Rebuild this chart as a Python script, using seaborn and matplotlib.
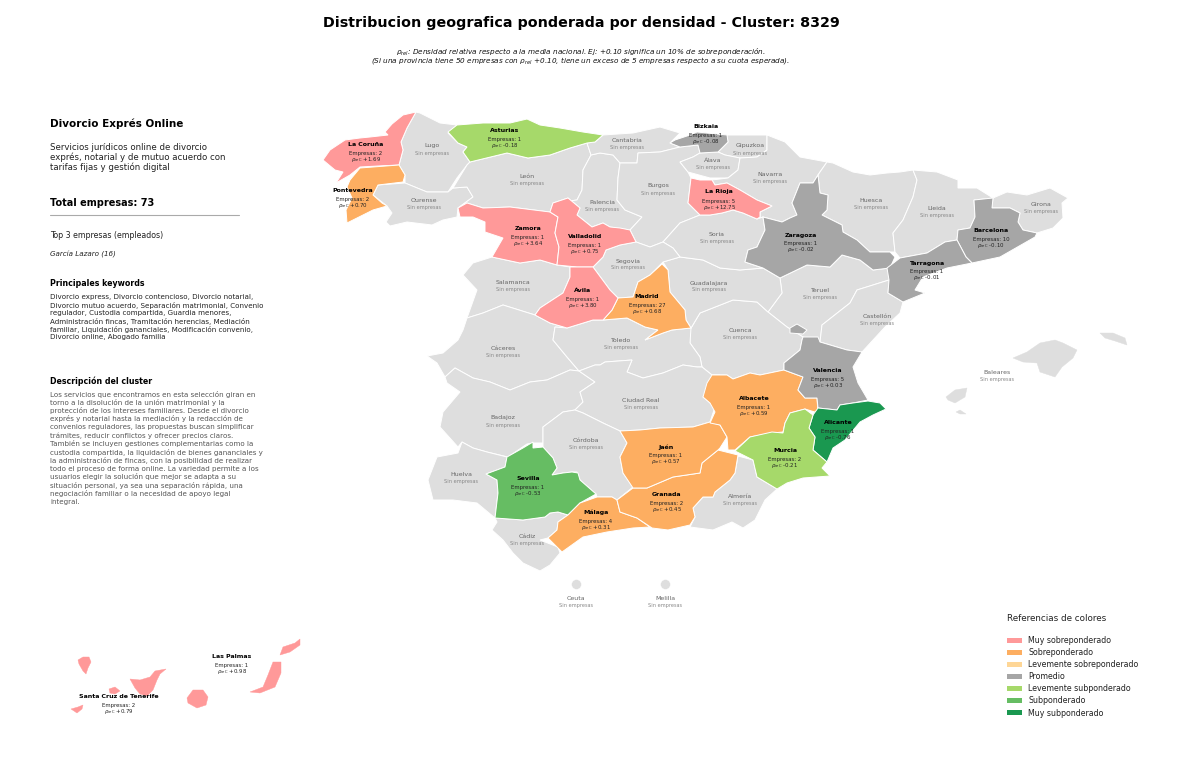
import matplotlib
matplotlib.use('Agg')
import matplotlib.pyplot as plt
from matplotlib.patches import Patch
import seaborn as sns

# categorias de la leyenda
CATEGORIES = ['Muy sobreponderado', 'Sobreponderado', 'Levemente sobreponderado', 'Promedio',
              'Levemente subponderado', 'Subponderado', 'Muy subponderado']
CATEGORY_HEX = ['#ff9999', '#fdae61', '#fed696', '#a6a6a6', '#a6d96a', '#66bd63', '#1a9850']
NO_DATA = '#dedede'

# provincias con empresas
PROVINCES = ['La Coruña', 'Pontevedra', 'Asturias', 'Zamora', 'Valladolid', 'Ávila', 'Madrid', 'Bizkaia',
             'La Rioja', 'Zaragoza', 'Tarragona', 'Barcelona', 'Valencia', 'Albacete', 'Alicante', 'Murcia',
             'Jaén', 'Granada', 'Málaga', 'Sevilla', 'Las Palmas', 'Santa Cruz de Tenerife']
COUNTS = [2, 2, 1, 1, 1, 1, 27, 1, 5, 1, 1, 10, 5, 1, 1, 2, 1, 2, 4, 1, 1, 2]
RHO = [1.69, 0.70, -0.18, 3.64, 0.75, 3.80, 0.68, -0.08, 12.75, -0.02, -0.01, -0.10, 0.03, 0.59, -0.76, -0.21,
       0.57, 0.45, 0.31, -0.53, 0.98, 0.79]
CLASSES = [0, 1, 4, 0, 0, 0, 1, 3, 0, 3, 3, 3, 3, 1, 6, 4, 1, 1, 1, 5, 0, 0]

EMPTY_PROVINCES = ['Lugo', 'Ourense', 'León', 'Palencia', 'Cantabria', 'Burgos', 'Álava', 'Gipuzkoa', 'Navarra',
                   'Huesca', 'Lleida', 'Girona', 'Soria', 'Segovia', 'Salamanca', 'Guadalajara', 'Teruel',
                   'Castellón', 'Cuenca', 'Toledo', 'Cáceres', 'Ciudad Real', 'Badajoz', 'Baleares', 'Córdoba',
                   'Huelva', 'Almería', 'Cádiz', 'Ceuta', 'Melilla']

ISLANDS = ['Baleares', 'Santa Cruz de Tenerife', 'Las Palmas']

OUTLINES = {
    'La Coruña': [[(416,112),(403,115),(392,124),(385,132),(388,135),(370,137),(360,138),(345,140),(330,150),(323,160),(335,170),(343,172),(336,183),(350,175),(360,167),(378,166),(399,165),(403,150),(401,142),(407,128)]],
    'Lugo': [[(416,112),(420,113),(440,123),(457,125),(448,133),(458,143),(467,147),(463,152),(470,162),(467,165),(457,178),(448,192),(427,192),(405,183),(405,175),(399,165),(403,150),(401,142),(407,128)]],
    'Asturias': [[(448,132),(457,125),(483,123),(510,123),(527,119),(540,125),(560,128),(583,132),(603,135),(595,142),(587,143),(570,148),(550,155),(528,158),(507,153),(470,162),(463,152),(467,147),(458,143)]],
    'Pontevedra': [[(399,165),(405,175),(403,182),(378,185),(373,195),(382,203),(387,206),(373,210),(347,223),(346,210),(352,198),(347,187),(350,180),(360,168)]],
    'Ourense': [[(405,183),(427,192),(448,192),(453,188),(467,187),(473,197),(458,208),(457,217),(443,220),(432,225),(407,222),(390,226),(386,222),(392,213),(387,206),(373,195),(378,185)]],
    'León': [[(470,162),(507,153),(528,158),(550,155),(570,148),(587,143),(591,155),(583,170),(582,190),(577,200),(553,203),(550,212),(510,207),(483,208),(467,203),(458,208),(473,197),(467,187),(453,188),(467,165)]],
    'Zamora': [[(458,208),(467,203),(483,208),(510,207),(550,212),(558,217),(555,233),(559,247),(557,265),(540,260),(520,263),(492,257),(503,238),(485,232),(485,222),(473,217),(460,217)]],
    'Valladolid': [[(553,203),(568,198),(580,208),(577,215),(592,227),(603,223),(610,227),(620,228),(630,230),(636,242),(620,245),(606,250),(603,257),(593,267),(577,267),(557,265),(559,247),(555,233),(558,217),(550,212)]],
    'Palencia': [[(591,155),(600,153),(613,155),(620,163),(618,178),(617,200),(625,210),(642,217),(630,230),(610,227),(603,223),(592,227),(577,215),(580,208),(568,198),(553,203),(577,200),(582,190),(583,170)]],
    'Cantabria': [[(603,135),(633,133),(660,127),(680,133),(670,143),(680,147),(660,152),(638,153),(637,163),(620,163),(613,155),(600,153),(591,155),(587,143),(595,142)]],
    'Burgos': [[(620,163),(637,163),(638,153),(660,152),(680,147),(698,145),(700,153),(693,157),(680,162),(688,172),(691,178),(688,203),(700,215),(680,223),(663,242),(650,247),(636,242),(630,230),(642,217),(625,210),(617,200),(618,178)]],
    'Bizkaia': [[(670,143),(675,140),(690,135),(697,132),(727,135),(728,142),(718,152),(700,153),(698,145),(680,147)]],
    'Gipuzkoa': [[(727,135),(767,135),(767,150),(757,157),(740,158),(725,155),(718,152),(728,142)]],
    'Álava': [[(700,153),(718,152),(725,155),(740,158),(738,170),(728,178),(710,178),(688,172),(680,162),(693,157)]],
    'La Rioja': [[(691,178),(700,180),(712,180),(715,185),(727,183),(740,190),(757,200),(772,206),(760,212),(760,217),(757,219),(743,213),(733,210),(722,213),(710,215),(700,215),(688,203)]],
    'Navarra': [[(767,135),(785,142),(800,157),(827,162),(820,172),(818,175),(813,183),(800,183),(792,203),(797,215),(790,218),(782,222),(763,217),(757,219),(760,217),(760,212),(772,206),(757,200),(740,190),(727,183),(715,185),(712,180),(728,178),(738,170),(740,158),(757,157),(767,150)]],
    'Zaragoza': [[(818,175),(820,193),(828,195),(827,210),(822,215),(842,225),(843,232),(857,240),(870,252),(890,252),(895,257),(890,268),(873,270),(860,260),(842,255),(830,267),(807,265),(780,278),(763,268),(745,262),(748,250),(757,247),(765,230),(763,217),(782,222),(790,218),(797,215),(792,203),(800,183),(813,183)]],
    'Huesca': [[(827,162),(833,163),(853,172),(870,175),(887,173),(900,172),(913,170),(917,180),(913,197),(903,220),(893,233),(895,252),(870,252),(857,240),(843,232),(842,225),(822,215),(827,210),(828,195),(820,193),(818,175),(820,172)]],
    'Lleida': [[(913,170),(937,172),(958,180),(958,188),(977,188),(993,198),(974,200),(975,217),(970,228),(958,230),(957,240),(945,242),(927,253),(900,258),(895,252),(893,233),(903,220),(913,197),(917,180)]],
    'Girona': [[(993,198),(1007,192),(1027,195),(1050,188),(1068,198),(1062,203),(1063,218),(1053,228),(1037,233),(1023,230),(1018,222),(1020,213),(1010,208),(992,208)]],
    'Barcelona': [[(974,200),(993,198),(992,208),(1010,208),(1020,213),(1018,222),(1023,230),(1037,233),(1035,237),(1000,257),(972,263),(966,257),(957,240),(958,230),(970,228),(975,217)]],
    'Tarragona': [[(945,242),(957,240),(966,257),(972,263),(947,268),(923,277),(915,290),(925,293),(903,302),(888,293),(889,280),(887,268),(900,258),(927,253)]],
    'Teruel': [[(780,278),(807,265),(830,267),(842,255),(860,260),(873,270),(890,268),(889,280),(857,290),(850,303),(822,325),(820,342),(803,337),(787,327),(768,312),(782,293)]],
    'Castellón': [[(889,280),(888,293),(903,302),(900,313),(885,327),(862,352),(847,350),(820,342),(822,325),(850,303),(857,290)]],
    'Cuenca': [[(690,330),(700,313),(733,300),(757,302),(768,312),(787,327),(803,337),(802,340),(800,350),(784,363),(784,370),(760,375),(750,373),(733,379),(727,375),(712,375),(702,367),(700,357),(690,343)]],
    'Guadalajara': [[(663,262),(680,257),(703,260),(720,268),(740,270),(763,268),(780,278),(782,293),(768,312),(757,302),(733,300),(700,313),(691,328),(686,320),(685,310),(670,292),(668,270)]],
    'Soria': [[(663,242),(680,223),(700,215),(710,215),(722,213),(733,210),(743,213),(757,219),(763,217),(765,230),(757,247),(748,250),(745,262),(763,268),(740,270),(720,268),(703,260),(680,257),(673,248)]],
    'Segovia': [[(636,242),(650,247),(663,242),(673,248),(680,257),(663,262),(650,275),(638,282),(633,297),(618,298),(610,290),(593,267),(603,257),(606,250),(620,245)]],
    'Madrid': [[(662,264),(668,270),(670,292),(685,310),(686,320),(691,328),(672,330),(663,333),(645,340),(658,330),(645,327),(627,318),(603,320),(612,310),(618,298),(633,297),(638,282),(650,275)]],
    'Ávila': [[(570,267),(593,267),(610,290),(618,298),(612,310),(603,320),(593,320),(567,328),(550,323),(535,315),(540,308),(563,293),(570,277)]],
    'Salamanca': [[(492,257),(520,263),(540,260),(557,265),(570,267),(570,277),(563,293),(540,308),(535,315),(503,305),(483,313),(467,318),(477,290),(463,275),(473,263)]],
    'Cáceres': [[(467,318),(483,313),(503,305),(535,315),(550,323),(567,328),(555,327),(553,340),(567,357),(579,371),(570,370),(547,380),(530,382),(510,390),(490,382),(473,378),(455,368),(445,377),(437,363),(427,356),(443,353),(458,340),(463,330)]],
    'Badajoz': [[(445,377),(455,368),(473,378),(490,382),(510,390),(530,382),(547,380),(570,370),(579,371),(595,382),(580,392),(583,402),(575,410),(563,412),(543,427),(543,443),(533,443),(527,444),(508,457),(487,452),(473,448),(462,442),(458,447),(440,427),(443,412),(460,392),(447,383)]],
    'Toledo': [[(553,340),(555,327),(567,328),(593,320),(603,320),(627,318),(645,327),(658,330),(645,340),(663,333),(672,330),(691,328),(690,343),(700,357),(702,367),(697,367),(683,365),(663,373),(643,378),(627,372),(632,360),(605,362),(600,365),(595,365),(579,371),(567,357)]],
    'Ciudad Real': [[(579,371),(595,365),(600,365),(605,362),(632,360),(627,372),(643,378),(663,373),(683,365),(697,367),(702,367),(712,375),(720,375),(703,397),(715,407),(710,422),(693,427),(660,428),(640,430),(620,431),(603,423),(583,413),(575,410),(583,402),(580,392),(595,382)]],
    'Córdoba': [[(575,410),(583,413),(603,423),(620,431),(627,443),(620,457),(623,473),(633,487),(617,500),(612,497),(597,497),(596,494),(580,480),(577,472),(572,472),(563,473),(552,475),(557,468),(553,458),(543,447),(543,427),(563,412)]],
    'Sevilla': [[(486,474),(505,467),(507,457),(523,448),(533,442),(533,448),(543,447),(553,458),(557,468),(552,475),(563,473),(572,472),(578,473),(580,480),(596,494),(580,503),(568,515),(558,512),(550,513),(545,517),(523,520),(495,518),(498,493),(497,480)]],
    'Huelva': [[(462,442),(473,448),(487,452),(507,457),(505,467),(486,474),(497,480),(498,493),(495,518),(477,503),(453,500),(433,500),(428,480),(437,457),(458,453)]],
    'Cádiz': [[(495,518),(523,520),(545,517),(550,513),(558,512),(568,515),(558,522),(557,530),(548,538),(540,540),(558,547),(560,553),(550,565),(540,571),(523,563),(513,553),(503,540),(492,530),(497,522)]],
    'Málaga': [[(568,515),(580,503),(597,497),(612,497),(617,500),(620,512),(637,518),(650,527),(633,528),(607,532),(583,537),(562,552),(548,538),(557,530),(558,522)]],
    'Granada': [[(617,500),(633,488),(647,488),(673,477),(700,473),(702,463),(718,450),(738,455),(735,473),(730,480),(715,492),(713,497),(703,497),(693,508),(695,517),(690,525),(668,530),(652,528),(637,518),(620,512)]],
    'Jaén': [[(620,431),(640,430),(660,428),(693,427),(710,422),(720,425),(727,437),(720,448),(718,450),(702,463),(700,473),(673,477),(647,488),(633,488),(623,473),(620,457),(627,443)]],
    'Albacete': [[(712,375),(727,375),(733,379),(750,373),(760,375),(784,370),(803,377),(798,390),(805,398),(817,398),(818,413),(805,409),(790,413),(785,423),(783,432),(772,433),(750,437),(735,450),(728,450),(727,437),(720,425),(710,423),(715,412),(710,403),(703,397),(707,383)]],
    'Valencia': [[(803,337),(818,337),(820,342),(847,350),(862,352),(853,367),(858,383),(868,400),(853,403),(840,405),(837,410),(818,408),(817,398),(805,398),(798,390),(803,377),(784,370),(784,363),(800,350),(802,340)],
                 [(790,328),(797,324),(807,330),(803,334),(790,333)]],
    'Alicante': [[(818,408),(837,410),(840,405),(853,403),(868,401),(880,403),(886,409),(873,415),(860,422),(845,440),(833,448),(827,462),(813,450),(815,437),(809,428),(813,415)]],
    'Murcia': [[(785,423),(790,413),(805,409),(813,415),(809,428),(815,437),(813,450),(827,462),(822,468),(830,476),(803,478),(787,483),(777,489),(757,477),(753,460),(735,451),(750,437),(772,432),(783,433)]],
    'Almería': [[(738,456),(753,460),(757,477),(777,489),(765,500),(755,520),(743,528),(732,522),(713,530),(690,527),(695,517),(693,508),(703,497),(713,497),(715,492),(730,480),(735,473)]],
    'Baleares': [[(1013,358),(1027,352),(1040,343),(1055,340),(1063,343),(1077,350),(1073,358),(1062,367),(1055,377),(1040,372),(1037,363),(1023,362)],
                 [(1100,333),(1113,333),(1125,338),(1127,345),(1115,341),(1105,338)],
                 [(946,397),(955,390),(967,388),(965,397),(955,403),(948,400)],
                 [(956,412),(960,410),(966,414),(960,414)]],
    'Santa Cruz de Tenerife': [[(78,660),(83,657),(89,657),(91,662),(88,668),(86,674),(83,671),(79,664)],
                               [(109,689),(115,687),(120,691),(115,694),(110,693)],
                               [(71,709),(78,707),(83,705),(82,709),(77,713)],
                               [(130,679),(140,680),(150,677),(155,671),(166,669),(160,674),(157,680),(153,690),(147,696),(140,694),(135,688)]],
    'Las Palmas': [[(193,690),(203,690),(208,697),(206,705),(197,708),(188,703),(187,698)],
                   [(250,692),(263,687),(268,675),(273,662),(281,662),(281,673),(275,687),(260,693)],
                   [(280,655),(283,647),(295,643),(300,639),(300,645),(290,652)]],
}

# ceuta y melilla son solo puntos
ENCLAVE_X = [576, 665]
ENCLAVE_Y = [584, 584]

# posicion de cada etiqueta
LABEL_POS = {
    'La Coruña': (366,145), 'Pontevedra': (353,191), 'Asturias': (505,131), 'Zamora': (528,229), 'Valladolid': (585,237),
    'Ávila': (583,291), 'Madrid': (647,297), 'Bizkaia': (706,127), 'La Rioja': (719,192), 'Zaragoza': (801,235),
    'Tarragona': (927,263), 'Barcelona': (991,230), 'Valencia': (828,371), 'Albacete': (754,399), 'Alicante': (838,422),
    'Murcia': (785,450), 'Jaén': (666,447), 'Granada': (667,494), 'Málaga': (596,512), 'Sevilla': (528,479),
    'Las Palmas': (232,656), 'Santa Cruz de Tenerife': (119,697),
    'Lugo': (432,146), 'Ourense': (424,201), 'León': (527,177), 'Palencia': (602,202), 'Cantabria': (627,141),
    'Burgos': (658,186), 'Álava': (713,161), 'Gipuzkoa': (750,146), 'Navarra': (770,174), 'Huesca': (871,201),
    'Lleida': (937,208), 'Girona': (1041,205), 'Soria': (717,234), 'Segovia': (628,261), 'Salamanca': (513,283),
    'Guadalajara': (709,283), 'Teruel': (820,291), 'Castellón': (877,317), 'Cuenca': (740,331), 'Toledo': (621,341),
    'Cáceres': (503,349), 'Ciudad Real': (641,400), 'Badajoz': (503,418), 'Baleares': (997,373), 'Córdoba': (586,441),
    'Huelva': (461,474), 'Almería': (740,497), 'Cádiz': (527,537), 'Ceuta': (576,599), 'Melilla': (665,599),
}

DESC_LINES = ['Servicios jurídicos online de divorcio', 'exprés, notarial y de mutuo acuerdo con',
              'tarifas fijas y gestión digital']
KEYWORD_LINES = ['Divorcio express, Divorcio contencioso, Divorcio notarial,',
                 'Divorcio mutuo acuerdo, Separación matrimonial, Convenio',
                 'regulador, Custodia compartida, Guardia menores,',
                 'Administración fincas, Tramitación herencias, Mediación',
                 'familiar, Liquidación gananciales, Modificación convenio,',
                 'Divorcio online, Abogado familia']
CLUSTER_LINES = ['Los servicios que encontramos en esta selección giran en',
                 'torno a la disolución de la unión matrimonial y la',
                 'protección de los intereses familiares. Desde el divorcio',
                 'exprés y notarial hasta la mediación y la redacción de',
                 'convenios reguladores, las propuestas buscan simplificar',
                 'trámites, reducir conflictos y ofrecer precios claros.',
                 'También se incluyen gestiones complementarias como la',
                 'custodia compartida, la liquidación de bienes gananciales y',
                 'la administración de fincas, con la posibilidad de realizar',
                 'todo el proceso de forma online. La variedad permite a los',
                 'usuarios elegir la solución que mejor se adapta a su',
                 'situación personal, ya sea una separación rápida, una',
                 'negociación familiar o la necesidad de apoyo legal',
                 'integral.']

sns.set_theme(style='white')
plt.rcParams['font.family'] = ['DejaVu Sans']
palette = sns.color_palette(CATEGORY_HEX)

fig = plt.figure(figsize=(12, 7.61), dpi=100)
ax = fig.add_axes([0, 0, 1, 1])

# provincias
for name, parts in OUTLINES.items():
    color = palette[CLASSES[PROVINCES.index(name)]] if name in PROVINCES else NO_DATA
    z = 2 if name in PROVINCES else 1
    # en las islas el borde blanco se come la forma
    edge = color if name in ISLANDS else 'white'
    lw = 0.3 if name in ISLANDS else 0.7
    for part in parts:
        xs, ys = zip(*part)
        ax.fill(xs, ys, facecolor=color, edgecolor=edge, linewidth=lw, zorder=z)

sns.scatterplot(x=ENCLAVE_X, y=ENCLAVE_Y, color=NO_DATA, s=50, edgecolor='white', linewidth=0.3, ax=ax, zorder=2)

ax.set_xlim(0, 1200)
ax.set_ylim(761, 0)
ax.axis('off')

# etiquetas
for name, n, r in zip(PROVINCES, COUNTS, RHO):
    x, y = LABEL_POS[name]
    ax.text(x, y, name, ha='center', va='center', fontsize=4.5, fontweight='bold', color='black', zorder=5)
    ax.text(x, y + 9, f'Empresas: {n}', ha='center', va='center', fontsize=3.9, color='#222222', zorder=5)
    ax.text(x, y + 15, rf'$\rho_{{rel}}$: {r:+.2f}', ha='center', va='center', fontsize=3.9, color='#222222', zorder=5)

for name in EMPTY_PROVINCES:
    x, y = LABEL_POS[name]
    ax.text(x, y, name, ha='center', va='center', fontsize=4.5, color='#666666', zorder=5)
    ax.text(x, y + 7, 'Sin empresas', ha='center', va='center', fontsize=3.65, color='#888888', zorder=5)

# cabecera
ax.text(581, 23, 'Distribucion geografica ponderada por densidad - Cluster: 8329', ha='center', va='center',
        fontsize=10.3, fontweight='bold', color='black')
ax.text(581, 52, r'$\rho_{rel}$: Densidad relativa respecto a la media nacional. Ej: +0.10 significa un 10% de sobreponderación.',
        ha='center', va='center', fontsize=5.2, style='italic', color='#111111')
ax.text(581, 61, r'(Si una provincia tiene 50 empresas con $\rho_{rel}$ +0.10, tiene un exceso de 5 empresas respecto a su cuota esperada).',
        ha='center', va='center', fontsize=5.2, style='italic', color='#111111')

# panel izquierdo
ax.text(50, 124, 'Divorcio Exprés Online', va='center', fontsize=7.5, fontweight='bold', color='black')
for i, line in enumerate(DESC_LINES):
    ax.text(50, 147 + i * 10, line, va='center', fontsize=6.2, color='#222222')
ax.text(50, 203, 'Total empresas: 73', va='center', fontsize=7, fontweight='bold', color='black')
ax.plot([50, 239], [215, 215], color='#aaaaaa', linewidth=0.8)
ax.text(50, 236, 'Top 3 empresas (empleados)', va='center', fontsize=5.7, color='#222222')
ax.text(50, 254, 'García Lazaro (16)', va='center', fontsize=5.1, style='italic', color='#222222')
ax.text(50, 284, 'Principales keywords', va='center', fontsize=5.7, fontweight='bold', color='black')
for i, line in enumerate(KEYWORD_LINES):
    ax.text(50, 297 + i * 8.1, line, va='center', fontsize=5.1, color='#222222')
ax.text(50, 381, 'Descripción del cluster', va='center', fontsize=5.7, fontweight='bold', color='black')
for i, line in enumerate(CLUSTER_LINES):
    ax.text(50, 394 + i * 8.3, line, va='center', fontsize=5.1, color='#555555')

# leyenda
handles = [Patch(facecolor=c, edgecolor='none', label=l) for c, l in zip(palette, CATEGORIES)]
leg = ax.legend(handles=handles, title='Referencias de colores', frameon=False, fontsize=5.7, title_fontsize=6.3,
                loc='upper left', bbox_to_anchor=(1007 / 1200, 1 - 614 / 761), borderpad=0, borderaxespad=0,
                labelspacing=0.39, handlelength=1.9, handleheight=0.6, handletextpad=0.76)
leg._legend_box.align = 'left'
leg._legend_box.sep = 9.4
for t in leg.get_texts():
    t.set_color('#222222')
leg.get_title().set_color('#222222')

fig.savefig('out.png', dpi=100)
